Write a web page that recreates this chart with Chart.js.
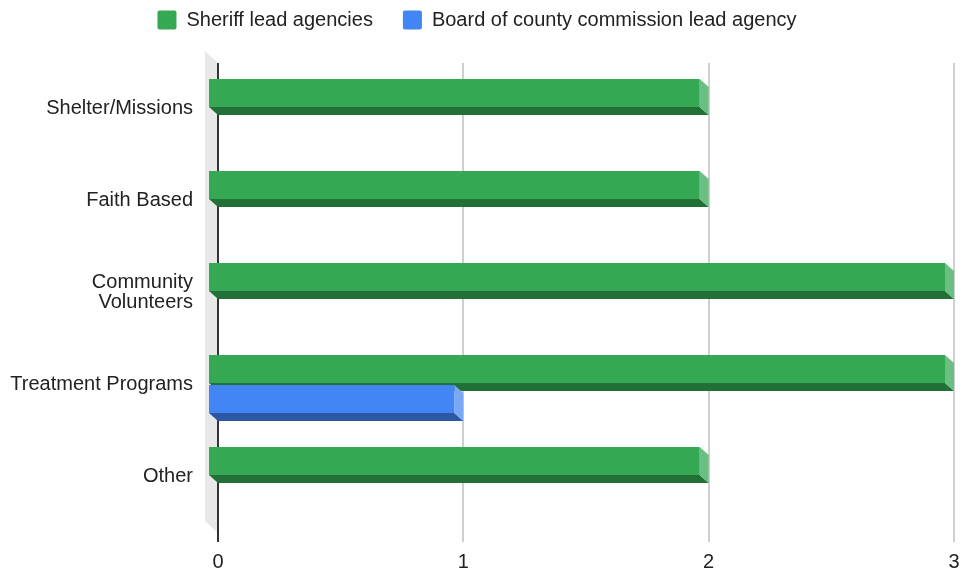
<!DOCTYPE html>
<html>
<head>
<meta charset="utf-8">
<script src="https://cdn.jsdelivr.net/npm/chart.js@4/dist/chart.umd.min.js"></script>
<style>
  html, body { margin: 0; padding: 0; background: #fff; }
  #wrap { width: 964px; height: 571px; }
</style>
</head>
<body>
<div id="wrap"><canvas id="grafica"></canvas></div>
<script>
// datos del grafico
const categorias = ['Shelter/Missions', 'Faith Based', ['Community', 'Volunteers'], 'Treatment Programs', 'Other'];
const sheriff = [2, 2, 3, 3, 2];
const board = [0, 0, 0, 1, 0];
const ticksX = [0, 1, 2, 3];

// colores de cada serie: frente, fondo (abajo), lado derecho
const caras = [
  { frente: '#34a853', abajo: '#236f38', lado: '#6bbf83' },
  { frente: '#4285f4', abajo: '#2b57a3', lado: '#7aa8f7' }
];

const fuente = "'Liberation Sans', Arial, sans-serif";
const DX = 9, DY = 8; // profundidad de las barras

// espacio extra debajo de la leyenda
const espacioLeyenda = {
  id: 'espacioLeyenda',
  beforeInit(chart) {
    const fitOrig = chart.legend.fit;
    chart.legend.fit = function () {
      fitOrig.bind(chart.legend)();
      this.height += 22;
    };
  }
};

// dibuja las barras en 3D, la pared gris y las lineas
const barras3d = {
  id: 'barras3d',
  beforeDatasetsDraw(chart) {
    const ctx = chart.ctx;
    const a = chart.chartArea;
    const sx = chart.scales.x;
    const x0 = sx.getPixelForValue(0);
    ctx.save();
    // pared izquierda
    ctx.fillStyle = '#e8e8e8';
    ctx.beginPath();
    ctx.moveTo(x0 - 13, a.top - 11);
    ctx.lineTo(x0, a.top + 1);
    ctx.lineTo(x0, a.bottom + 11);
    ctx.lineTo(x0 - 13, a.bottom - 1);
    ctx.closePath();
    ctx.fill();
    // lineas de la cuadricula
    sx.ticks.forEach(t => {
      const px = Math.round(sx.getPixelForValue(t.value));
      ctx.beginPath();
      ctx.moveTo(px, a.top + 1);
      ctx.lineTo(px, a.bottom + 20);
      ctx.strokeStyle = t.value === 0 ? '#333' : '#cfcfcf';
      ctx.lineWidth = 2;
      ctx.stroke();
    });
    ctx.restore();
  },
  beforeDatasetDraw() {
    return false;
  },
  afterDatasetsDraw(chart) {
    const ctx = chart.ctx;
    ctx.save();
    chart.data.datasets.forEach((ds, i) => {
      const meta = chart.getDatasetMeta(i);
      const c = caras[i];
      meta.data.forEach((bar, j) => {
        if (!ds.data[j]) return;
        const p = bar.getProps(['x', 'y', 'base', 'height'], true);
        const izq = Math.min(p.base, p.x) - DX;
        const der = Math.max(p.base, p.x) - DX;
        const arriba = p.y - p.height / 2;
        const abajo = p.y + p.height / 2;
        // cara de abajo
        ctx.fillStyle = c.abajo;
        ctx.beginPath();
        ctx.moveTo(izq, abajo);
        ctx.lineTo(der, abajo);
        ctx.lineTo(der + DX, abajo + DY);
        ctx.lineTo(izq + DX, abajo + DY);
        ctx.closePath();
        ctx.fill();
        // cara derecha
        ctx.fillStyle = c.lado;
        ctx.beginPath();
        ctx.moveTo(der, arriba);
        ctx.lineTo(der + DX, arriba + DY);
        ctx.lineTo(der + DX, abajo + DY);
        ctx.lineTo(der, abajo);
        ctx.closePath();
        ctx.fill();
        // frente
        ctx.fillStyle = c.frente;
        ctx.fillRect(izq, arriba, der - izq, abajo - arriba);
      });
    });
    ctx.restore();
  }
};

const ctx = document.getElementById('grafica').getContext('2d');
new Chart(ctx, {
  type: 'bar',
  data: {
    labels: categorias,
    datasets: [
      { label: 'Sheriff lead agencies', data: sheriff, backgroundColor: caras[0].frente },
      { label: 'Board of county commission lead agency', data: board, backgroundColor: caras[1].frente }
    ]
  },
  options: {
    indexAxis: 'y',
    responsive: true,
    maintainAspectRatio: false,
    animation: false,
    categoryPercentage: 0.652,
    barPercentage: 0.933,
    layout: { padding: { top: -20, right: 10, left: 0, bottom: 0 } },
    plugins: {
      legend: {
        position: 'top',
        labels: {
          boxWidth: 19,
          boxHeight: 19,
          useBorderRadius: true,
          borderRadius: 2,
          padding: 30,
          color: '#222',
          font: { family: fuente, size: 20 }
        }
      },
      tooltip: { enabled: false }
    },
    scales: {
      x: {
        min: 0,
        max: 3,
        afterBuildTicks: s => { s.ticks = ticksX.map(v => ({ value: v })); },
        afterFit: s => { s.height = 49; s.paddingLeft = 0; s.paddingRight = 0; },
        grid: { display: false },
        border: { display: false },
        ticks: { color: '#222', padding: 20, font: { family: fuente, size: 20 } }
      },
      y: {
        afterFit: s => { s.width = 218; },
        grid: { display: false },
        border: { display: false },
        ticks: { color: '#222', padding: 17, font: { family: fuente, size: 20, lineHeight: 1 } }
      }
    }
  },
  plugins: [espacioLeyenda, barras3d]
});
</script>
</body>
</html>
